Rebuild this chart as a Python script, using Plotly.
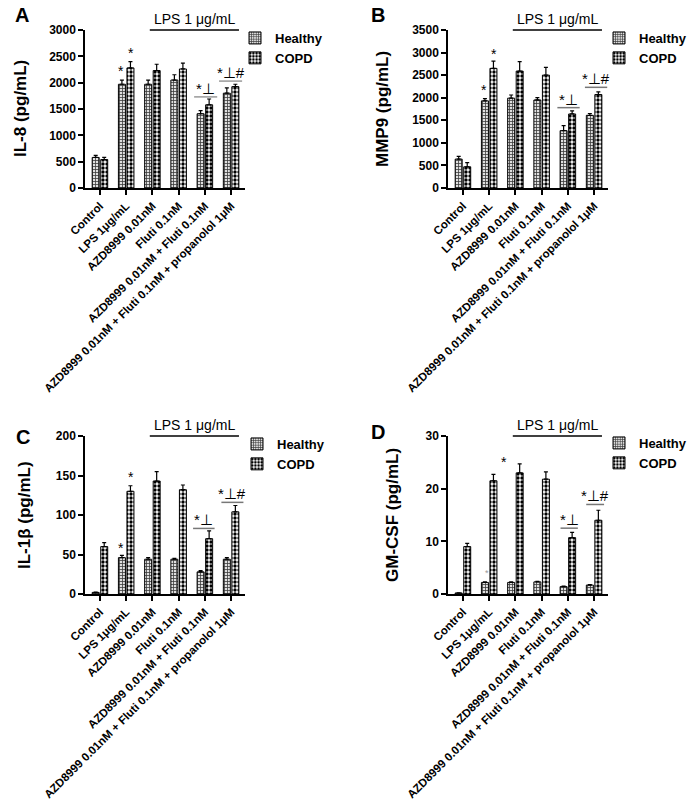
import plotly.graph_objects as go

W, H = 692, 808
FONT = "Liberation Sans, Arial, sans-serif"

groups = ["Control", "LPS 1\u03bcg/mL", "AZD8999 0.01nM", "Fluti 0.1nM",
          "AZD8999 0.01nM + Fluti 0.1nM",
          "AZD8999 0.01nM + Fluti 0.1nM + propanolol 1\u03bcM"]
pos = [0, 1, 2, 3, 4, 5]

# Panel A: IL-8
il8_healthy = [580, 1970, 1970, 2050, 1410, 1800]
il8_healthy_err = [40, 80, 80, 100, 60, 100]
il8_copd = [540, 2280, 2230, 2260, 1580, 1925]
il8_copd_err = [40, 120, 120, 110, 110, 45]

# Panel B: MMP9
mmp9_healthy = [640, 1930, 1990, 1950, 1270, 1610]
mmp9_healthy_err = [60, 50, 70, 50, 110, 40]
mmp9_copd = [470, 2650, 2590, 2500, 1640, 2070]
mmp9_copd_err = [90, 160, 210, 170, 70, 60]

# Panel C: IL-1beta
il1b_healthy = [2, 46, 44, 44, 28, 44]
il1b_healthy_err = [0.5, 3, 2, 1, 1.5, 2]
il1b_copd = [60, 130, 143, 132, 70, 104]
il1b_copd_err = [5, 7, 12, 6, 10, 8]

# Panel D: GM-CSF
gmcsf_healthy = [0.2, 2.2, 2.2, 2.3, 1.4, 1.7]
gmcsf_healthy_err = [0, 0.1, 0.1, 0.1, 0.1, 0.1]
gmcsf_copd = [9.0, 21.5, 23.0, 21.8, 10.7, 14.0]
gmcsf_copd_err = [0.6, 1.2, 1.7, 1.4, 1.0, 1.9]

panels = [
    dict(letter="A", title="IL-8 (pg/mL)", h=il8_healthy, he=il8_healthy_err,
         c=il8_copd, ce=il8_copd_err, ymax=3000, dtick=500,
         px=(85, 245), py=(30, 188), letter_xy=(22, 15), title_x=20,
         leg=(235, 23, "left"),
         stars=[(1 - 0.19, 2220, 14, "black"), (1 + 0.19, 2560, 14, "black")],
         sig1=(3.59, 4.47, 1730), sig2=(4.54, 5.42, 2030), sigcolor="#999999"),
    dict(letter="B", title="MMP9 (pg/mL)", h=mmp9_healthy, he=mmp9_healthy_err,
         c=mmp9_copd, ce=mmp9_copd_err, ymax=3500, dtick=500,
         px=(448, 608), py=(30, 188), letter_xy=(378, 15), title_x=382,
         leg=(692, 23, "right"),
         stars=[(1 - 0.19, 2170, 14, "black"), (1 + 0.19, 2970, 14, "black")],
         sig1=(3.6, 4.45, 1780), sig2=(4.65, 5.5, 2230), sigcolor="#777777"),
    dict(letter="C", title="IL-1\u03b2 (pg/mL)", h=il1b_healthy, he=il1b_healthy_err,
         c=il1b_copd, ce=il1b_copd_err, ymax=200, dtick=50,
         px=(85, 245), py=(436, 594), letter_xy=(23, 437), title_x=24,
         leg=(237, 429, "left"),
         stars=[(1 - 0.19, 58, 14, "black"), (1 + 0.19, 148, 14, "black")],
         sig1=(3.55, 4.37, 83), sig2=(4.63, 5.47, 116), sigcolor="#777777"),
    dict(letter="D", title="GM-CSF (pg/mL)", h=gmcsf_healthy, he=gmcsf_healthy_err,
         c=gmcsf_copd, ce=gmcsf_copd_err, ymax=30, dtick=10,
         px=(448, 608), py=(436, 594), letter_xy=(378, 432), title_x=392,
         leg=(692, 428, "right"),
         stars=[(1.55, 25.0, 14, "black"), (0.93, 3.9, 9, "#999999")],
         sig1=(3.72, 4.38, 12.5), sig2=(4.7, 5.38, 17), sigcolor="#777777"),
]

fig = go.Figure()
annotations = []
shapes = []

for i, p in enumerate(panels):
    n = "" if i == 0 else str(i + 1)
    xa, ya = "x" + n, "y" + n
    leg = "legend" + n
    fig.add_trace(go.Bar(
        x=pos, y=p["h"], name="Healthy", xaxis=xa, yaxis=ya, legend=leg,
        marker=dict(color="white", line=dict(color="black", width=1),
                    pattern=dict(shape="+", size=3, solidity=0.45,
                                 fgcolor="#3a3a3a", bgcolor="#e0e0e0")),
        error_y=dict(type="data", array=p["he"], arrayminus=[0] * 6,
                     symmetric=False, color="black", thickness=1.2, width=2),
    ))
    fig.add_trace(go.Bar(
        x=pos, y=p["c"], name="COPD", xaxis=xa, yaxis=ya, legend=leg,
        marker=dict(color="white", line=dict(color="black", width=1),
                    pattern=dict(shape=".", size=4, solidity=0.55,
                                 fgcolor="black", bgcolor="white")),
        error_y=dict(type="data", array=p["ce"], arrayminus=[0] * 6,
                     symmetric=False, color="black", thickness=1.2, width=2),
    ))
    x0, x1 = p["px"]
    y0, y1 = p["py"]
    axis_common = dict(showline=True, linecolor="black", linewidth=1.5,
                       ticks="outside", tickcolor="black", tickwidth=1.5,
                       ticklen=5, showgrid=False, zeroline=False, automargin=False)
    fig.update_layout({
        "xaxis" + n: dict(domain=[x0 / W, x1 / W], anchor=ya,
                          range=[-0.57, 5.53], tickvals=pos, ticktext=groups,
                          tickangle=-45,
                          tickfont=dict(family=FONT, size=11.5, color="black", weight="bold"),
                          **axis_common),
        "yaxis" + n: dict(domain=[1 - y1 / H, 1 - y0 / H], anchor=xa,
                          range=[0, p["ymax"]], dtick=p["dtick"],
                          tickfont=dict(family=FONT, size=12, color="black", weight="bold"),
                          **axis_common),
        leg: dict(x=p["leg"][0] / W, y=1 - p["leg"][1] / H, xanchor=p["leg"][2],
                  yanchor="top", bgcolor="rgba(0,0,0,0)",
                  font=dict(family=FONT, size=13, color="black", weight="bold"),
                  tracegroupgap=2),
    })
    # panel letter
    annotations.append(dict(text="<b>%s</b>" % p["letter"], xref="paper", yref="paper",
                            x=p["letter_xy"][0] / W, y=1 - p["letter_xy"][1] / H,
                            xanchor="center", yanchor="middle",
                            showarrow=False, font=dict(family=FONT, size=20, color="black")))
    # y title
    annotations.append(dict(text="<b>%s</b>" % p["title"], xref="paper", yref="paper",
                            x=p["title_x"] / W, y=1 - ((y0 + y1) / 2) / H, textangle=-90,
                            xanchor="center", yanchor="middle",
                            showarrow=False, font=dict(family=FONT, size=17, color="black")))
    # LPS line and text
    shapes.append(dict(type="line", xref=xa, yref="paper", x0=1.9, x1=5.3,
                       y0=1 - y0 / H, y1=1 - y0 / H, line=dict(color="black", width=1.5)))
    annotations.append(dict(text="LPS 1 \u03bcg/mL", xref=xa, yref="paper", x=3.6,
                            y=1 - (y0 - 1) / H, xanchor="center", yanchor="bottom",
                            showarrow=False,
                            font=dict(family=FONT, size=14, color="black")))
    # stars
    for sx, sy, fs, col in p["stars"]:
        annotations.append(dict(text="*", xref=xa, yref=ya, x=sx, y=sy, showarrow=False,
                                xanchor="center", yanchor="middle",
                                font=dict(family=FONT, size=fs, color=col)))
    # significance lines
    for sig, txt in ((p["sig1"], "*\u22a5"), (p["sig2"], "*\u22a5#")):
        sx0, sx1, sy = sig
        shapes.append(dict(type="line", xref=xa, yref=ya, x0=sx0, x1=sx1, y0=sy, y1=sy,
                           line=dict(color=p["sigcolor"], width=1.5)))
        annotations.append(dict(text=txt, xref=xa, yref=ya, x=(sx0 + sx1) / 2, y=sy,
                                xanchor="center", yanchor="bottom", yshift=-2,
                                showarrow=False,
                                font=dict(family=FONT, size=15, color="black")))

fig.update_layout(
    template="none",
    width=W, height=H, margin=dict(l=0, r=0, t=0, b=0, pad=0),
    paper_bgcolor="white", plot_bgcolor="white",
    barmode="group", bargap=0.35, bargroupgap=0.18,
    annotations=annotations, shapes=shapes,
    font=dict(family=FONT, color="black"),
)

fig.write_html("out.html", config={"displayModeBar": False},
               post_script="document.body.style.margin='0';document.body.style.padding='0';")
